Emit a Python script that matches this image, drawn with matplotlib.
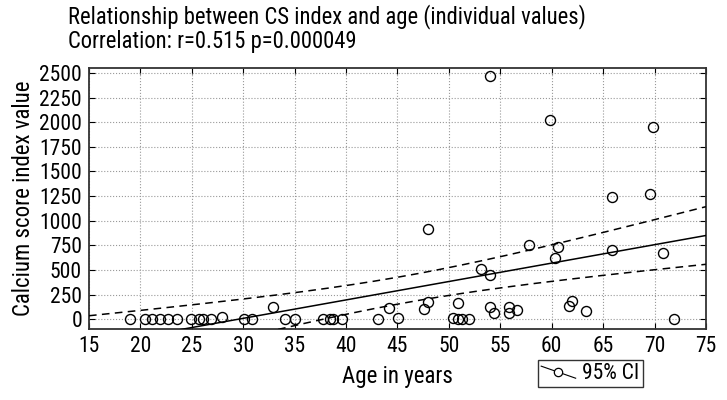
import numpy as np
import matplotlib
matplotlib.use("Agg")
import matplotlib.pyplot as plt
from matplotlib import font_manager
from matplotlib.legend_handler import HandlerBase
from matplotlib.lines import Line2D

# values (age in years, CS index)
AGE = [19.0, 20.4, 21.1, 21.9, 22.7, 23.6, 24.9, 25.7, 26.1, 26.9,
       27.9, 30.1, 30.9, 32.85, 34.1, 35.0, 37.8, 38.4, 38.7, 39.6,
       43.1, 44.2, 45.1, 47.6, 48.0, 48.0, 50.4, 50.9, 50.9, 51.3,
       52.0, 53.1, 54.0, 54.0, 54.0, 54.35, 55.85, 55.85, 56.65, 57.8,
       59.85, 60.3, 60.6, 61.65, 61.95, 63.3, 65.85, 65.85, 69.6, 69.85,
       70.8, 71.9]
CS = [0, 0, 0, 0, 0, 0, 0, 0, 0, 0,
      17, 0, 0, 125, 0, 0, 0, 0, 0, 0,
      0, 109, 14, 108, 172, 913, 14, 163, 0, 0,
      0, 505, 448, 2473, 122, 58, 122, 58, 88, 753,
      2025, 617, 736, 130, 184, 81, 1245, 702, 1272, 1947,
      675, 0]

X_TICKS = list(range(15, 80, 5))
Y_TICKS = list(range(0, 2750, 250))
TITLE = ("Relationship between CS index and age (individual values)\n"
         "Correlation: r=0.515 p=0.000049")
T_CRIT = 2.009  # t(0.975, df=50)


def pick_narrow_font():
    """Look for a condensed sans among installed fonts."""
    fonts = font_manager.fontManager.ttflist
    for want in ["Liberation Sans Narrow", "Roboto Condensed",
                 "Open Sans Condensed", "Noto Sans Condensed"]:
        if any(f.name == want for f in fonts):
            return want, "normal"
    for fam in ["DejaVu Sans", "Noto Sans", "Open Sans", "Roboto"]:
        for f in fonts:
            if f.name == fam and f.stretch in ("condensed", "semi-condensed",
                                               "extra-condensed", 75, 87.5):
                return fam, f.stretch
    return "DejaVu Sans", "normal"


class SlantHandler(HandlerBase):
    # statistica-style legend key: slanted line through an open circle
    def create_artists(self, legend, orig, xd, yd, w, h, fontsize, trans):
        ln = Line2D([xd, xd + w], [yd + h * 0.85, yd + h * 0.05],
                    color="k", lw=0.8, transform=trans)
        mk = Line2D([xd + w * 0.5], [yd + h * 0.45], marker="o", ms=6,
                    mfc="white", mec="k", mew=0.9, ls="none", transform=trans)
        return [ln, mk]


def fit_with_ci(x, y, xs):
    x = np.asarray(x, float)
    y = np.asarray(y, float)
    b, a = np.polyfit(x, y, 1)
    resid = y - (a + b * x)
    n = len(x)
    s = np.sqrt(np.sum(resid ** 2) / (n - 2))
    sxx = np.sum((x - x.mean()) ** 2)
    yhat = a + b * xs
    half = T_CRIT * s * np.sqrt(1.0 / n + (xs - x.mean()) ** 2 / sxx)
    return yhat, yhat - half, yhat + half


def main():
    fam, stretch = pick_narrow_font()
    plt.rcParams["font.family"] = [fam, "DejaVu Sans"]
    plt.rcParams["font.stretch"] = stretch

    fig = plt.figure(figsize=(7.27, 4.0), dpi=100)
    ax = fig.add_axes([0.1224, 0.1775, 0.8486, 0.6525])

    xs = np.linspace(15, 75, 200)
    yhat, lo, hi = fit_with_ci(AGE, CS, xs)
    ax.plot(xs, yhat, color="k", lw=1.1, zorder=3)
    ax.plot(xs, lo, color="k", lw=1.1, ls=(0, (5, 3.5)), zorder=3)
    ax.plot(xs, hi, color="k", lw=1.1, ls=(0, (5, 3.5)), zorder=3)
    ax.plot(AGE, CS, ls="none", marker="o", ms=7.2, mfc="none",
            mec="k", mew=1.0, zorder=4)

    ax.set_xlim(15, 75)
    ax.set_ylim(-100, 2550)
    ax.set_xticks(X_TICKS)
    ax.set_yticks(Y_TICKS)
    ax.grid(True, color="0.6", ls=":", lw=0.8)
    ax.tick_params(direction="in", top=True, right=True, length=4,
                   labelsize=15.5, pad=5)
    for sp in ax.spines.values():
        sp.set_linewidth(1.3)
        sp.set_color("0.2")

    ax.set_xlabel("Age in years", fontsize=16.5, labelpad=6)
    ax.set_ylabel("Calcium score index value", fontsize=16.5, labelpad=3)
    fig.text(0.093, 0.99, TITLE, ha="left", va="top", fontsize=16.3,
             linespacing=1.05)

    fig.legend([object()], ["95% CI"], loc="lower left",
               handler_map={object: SlantHandler()},
               bbox_to_anchor=(0.74, 0.032), fontsize=15.5,
               frameon=True, fancybox=False, edgecolor="k",
               handlelength=1.6, handletextpad=0.3, borderpad=0.15,
               borderaxespad=0)

    fig.savefig("out.png", dpi=100)


if __name__ == "__main__":
    main()
